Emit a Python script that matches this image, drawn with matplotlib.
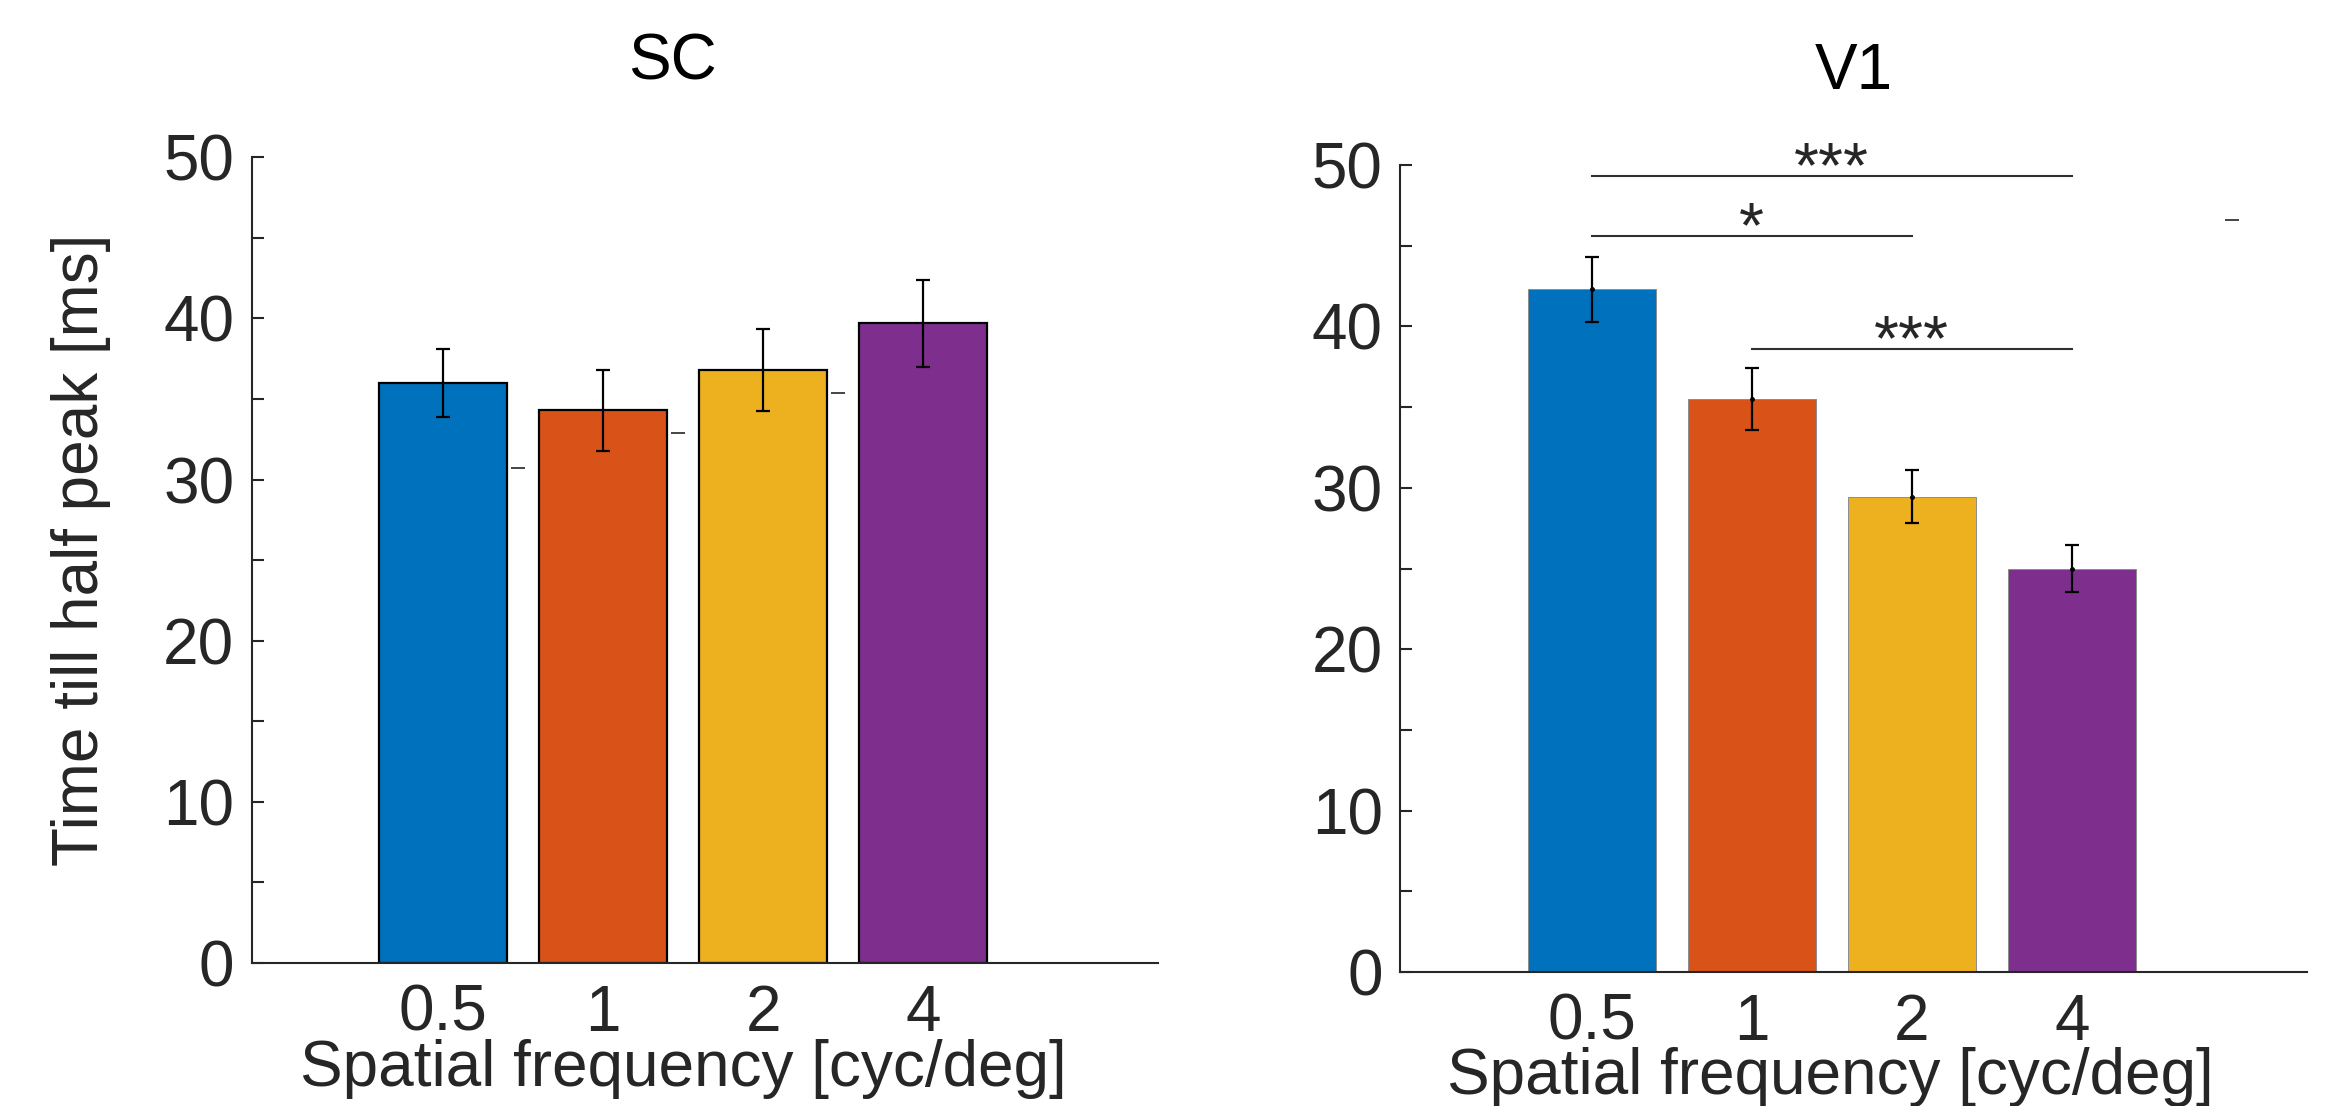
import matplotlib
matplotlib.use('Agg')
import matplotlib.pyplot as plt
import numpy as np

plt.rcParams['font.family'] = ['Liberation Sans', 'DejaVu Sans']

# conditions and bar colours
freq_labels = ['0.5', '1', '2', '4']
bar_colors = ['#0072BD', '#D95319', '#EDB120', '#7E2F8E']

# time till half peak [ms], mean and s.e.m.
sc_mean = [36.0, 34.3, 36.8, 39.7]
sc_err = [2.1, 2.5, 2.57, 2.7]
v1_mean = [42.3, 35.5, 29.45, 25.0]
v1_err = [2.0, 1.9, 1.65, 1.45]

# short leftover marks in each panel
sc_dash_x = [1.47, 2.47, 3.47]
sc_dash_y = [30.7, 32.9, 35.4]
v1_dash_x = [5.0]
v1_dash_y = [46.6]

# significance brackets for V1: (first bar, last bar, height, stars)
v1_sig = [(0, 3, 49.3, '***'), (0, 2, 45.6, '*'), (1, 3, 38.6, '***')]

W, H = 2326, 1106
fig = plt.figure(figsize=(W / 100, H / 100), dpi=100)
txt = '#262626'
fs = 46

ax1 = fig.add_axes([251.7 / W, 1 - 963 / H, 906 / W, 805.7 / H])
ax2 = fig.add_axes([1400 / W, 1 - 972 / H, 906.7 / W, 807 / H])

x = np.arange(1, len(freq_labels) + 1)

ax1.bar(x, sc_mean, width=0.8, color=bar_colors, edgecolor='black', linewidth=1.6, zorder=2)
ax1.errorbar(x, sc_mean, yerr=sc_err, fmt='none', ecolor='black',
             elinewidth=1.6, capsize=5, capthick=1.6, zorder=3)
ax1.plot(sc_dash_x, sc_dash_y, linestyle='none', marker='_', markersize=10,
         markeredgewidth=1.4, color='#444444', zorder=3)

ax2.bar(x, v1_mean, width=0.8, color=bar_colors, edgecolor='#8c8c8c', linewidth=0.7, zorder=2)
ax2.errorbar(x, v1_mean, yerr=v1_err, fmt='.', color='black', markersize=5,
             elinewidth=1.6, capsize=5, capthick=1.6, zorder=3)
ax2.plot(v1_dash_x, v1_dash_y, linestyle='none', marker='_', markersize=10,
         markeredgewidth=1.4, color='#444444', zorder=3)

for i, j, h, stars in v1_sig:
    ax2.plot([x[i], x[j]], [h, h], color='#303030', linewidth=1.5, zorder=3)
    ax2.text((x[i] + x[j]) / 2, h - 0.7, stars, ha='center', va='baseline',
             fontsize=fs, color=txt)

for ax in (ax1, ax2):
    ax.set_xlim(-0.198, 5.468)
    ax.set_ylim(0, 50)
    ax.set_xticks(x)
    ax.set_xticklabels(freq_labels)
    ax.set_yticks(np.arange(0, 51, 10))
    ax.set_yticks(np.arange(5, 50, 10), minor=True)
    for side in ('top', 'right'):
        ax.spines[side].set_visible(False)
    for side in ('left', 'bottom'):
        ax.spines[side].set_color(txt)
        ax.spines[side].set_linewidth(1.5)
    ax.tick_params(axis='y', which='both', direction='in', length=8.4, width=1.5,
                   color=txt, labelsize=fs, labelcolor=txt, pad=12.5)
    ax.tick_params(axis='x', length=0, labelsize=fs, labelcolor=txt, pad=15)

# titles and axis labels
fig.text(672 / W, 1 - 79.3 / H, 'SC', ha='center', va='baseline', fontsize=fs, color='black')
fig.text(1854 / W, 1 - 89 / H, 'V1', ha='center', va='baseline', fontsize=fs, color='black')
fig.text(683.4 / W, 1 - 1086 / H, 'Spatial frequency [cyc/deg]', ha='center',
         va='baseline', fontsize=fs, color=txt)
fig.text(1830.8 / W, 1 - 1094 / H, 'Spatial frequency [cyc/deg]', ha='center',
         va='baseline', fontsize=fs, color=txt)
fig.text(81 / W, 1 - 550 / H, 'Time till half peak [ms]', ha='center', va='center',
         rotation=90, fontsize=fs, color=txt)

fig.savefig('out.png', dpi=100, facecolor='white')
